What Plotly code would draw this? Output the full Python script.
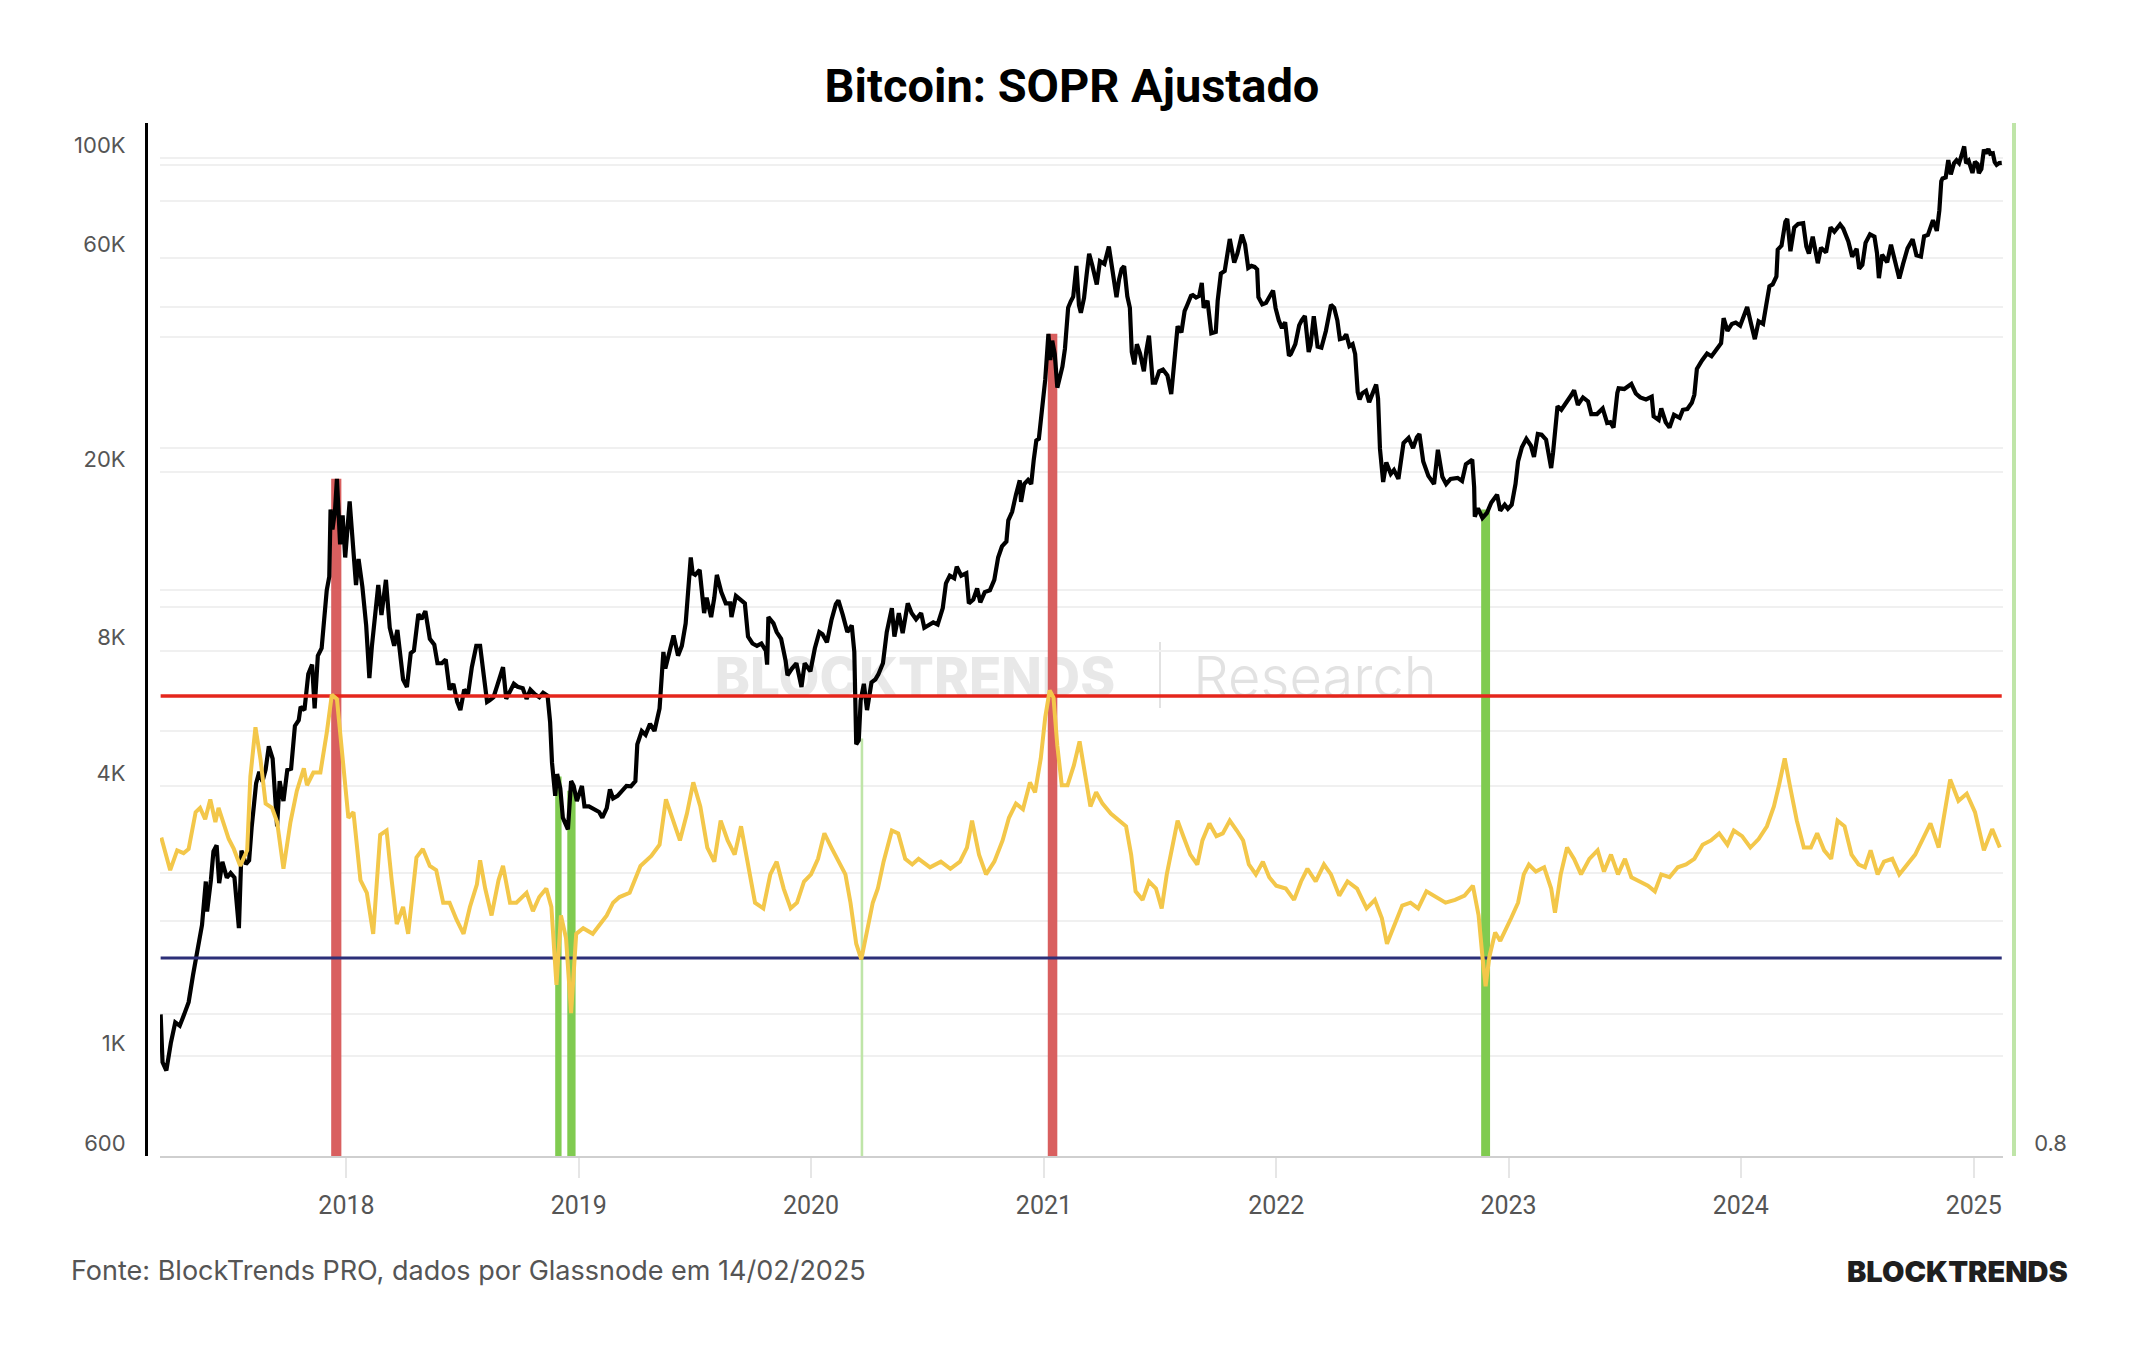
import plotly.graph_objects as go
import pandas as pd
import math

# ---------------- canvas / layout geometry ----------------
W, H = 2144, 1350
L, R, T, B = 146, 130, 123, 194
PW = W - L - R
PH = H - T - B


def px_x(px):
    return (px - L) / PW


def px_y(py):
    return (H - B - py) / PH


# ---------------- data ----------------
price_dates = [
    "2017-03-15", "2017-03-18", "2017-03-24", "2017-03-31", "2017-04-07", "2017-04-14", "2017-04-21", "2017-04-28",
    "2017-05-05", "2017-05-12", "2017-05-19", "2017-05-25", "2017-05-27", "2017-06-02", "2017-06-06", "2017-06-11",
    "2017-06-15", "2017-06-20", "2017-06-27", "2017-07-03", "2017-07-09", "2017-07-16", "2017-07-20", "2017-07-27",
    "2017-08-01", "2017-08-05", "2017-08-12", "2017-08-17", "2017-08-22", "2017-08-27", "2017-09-01", "2017-09-07",
    "2017-09-14", "2017-09-18", "2017-09-24", "2017-09-30", "2017-10-06", "2017-10-12", "2017-10-18", "2017-10-21",
    "2017-10-27", "2017-11-02", "2017-11-08", "2017-11-12", "2017-11-17", "2017-11-23", "2017-11-28", "2017-12-01",
    "2017-12-05", "2017-12-07", "2017-12-10", "2017-12-14", "2017-12-17", "2017-12-22", "2017-12-26", "2017-12-30",
    "2018-01-06", "2018-01-10", "2018-01-16", "2018-01-20", "2018-01-26", "2018-02-01", "2018-02-06", "2018-02-10",
    "2018-02-14", "2018-02-20", "2018-02-25", "2018-03-04", "2018-03-10", "2018-03-17", "2018-03-22", "2018-03-31",
    "2018-04-06", "2018-04-12", "2018-04-17", "2018-04-24", "2018-04-29", "2018-05-05", "2018-05-12", "2018-05-19",
    "2018-05-24", "2018-05-31", "2018-06-06", "2018-06-12", "2018-06-18", "2018-06-24", "2018-06-29", "2018-07-05",
    "2018-07-11", "2018-07-17", "2018-07-24", "2018-07-30", "2018-08-05", "2018-08-10", "2018-08-14", "2018-08-20",
    "2018-08-26", "2018-09-04", "2018-09-09", "2018-09-15", "2018-09-21", "2018-09-27", "2018-10-05", "2018-10-11",
    "2018-10-17", "2018-10-24", "2018-10-31", "2018-11-06", "2018-11-13", "2018-11-17", "2018-11-20", "2018-11-25",
    "2018-11-28", "2018-12-03", "2018-12-07", "2018-12-15", "2018-12-20", "2018-12-24", "2018-12-29",
    "2019-01-06", "2019-01-10", "2019-01-17", "2019-01-26", "2019-02-02", "2019-02-07", "2019-02-14", "2019-02-19",
    "2019-02-24", "2019-03-03", "2019-03-10", "2019-03-17", "2019-03-24", "2019-03-31", "2019-04-03", "2019-04-10",
    "2019-04-16", "2019-04-23", "2019-04-30", "2019-05-08", "2019-05-14", "2019-05-17", "2019-05-24", "2019-05-30",
    "2019-06-06", "2019-06-12", "2019-06-18", "2019-06-22", "2019-06-26", "2019-06-29", "2019-07-03", "2019-07-10",
    "2019-07-17", "2019-07-21", "2019-07-28", "2019-08-02", "2019-08-06", "2019-08-13", "2019-08-20", "2019-08-27",
    "2019-08-29", "2019-09-05", "2019-09-12", "2019-09-19", "2019-09-24", "2019-10-01", "2019-10-08", "2019-10-15",
    "2019-10-22", "2019-10-24", "2019-10-26", "2019-11-03", "2019-11-08", "2019-11-15", "2019-11-22", "2019-11-25",
    "2019-12-02", "2019-12-09", "2019-12-17", "2019-12-22", "2019-12-31",
    "2020-01-07", "2020-01-14", "2020-01-19", "2020-01-26", "2020-02-02", "2020-02-09", "2020-02-13", "2020-02-20",
    "2020-02-27", "2020-03-05", "2020-03-09", "2020-03-12", "2020-03-16", "2020-03-19", "2020-03-24", "2020-03-29",
    "2020-04-05", "2020-04-11", "2020-04-16", "2020-04-23", "2020-04-29", "2020-05-07", "2020-05-11", "2020-05-18",
    "2020-05-24", "2020-06-01", "2020-06-07", "2020-06-14", "2020-06-22", "2020-06-27", "2020-07-04", "2020-07-11",
    "2020-07-18", "2020-07-26", "2020-07-31", "2020-08-06", "2020-08-13", "2020-08-17", "2020-08-24", "2020-09-01",
    "2020-09-05", "2020-09-12", "2020-09-18", "2020-09-23", "2020-09-30", "2020-10-08", "2020-10-15", "2020-10-21",
    "2020-10-27", "2020-11-03", "2020-11-06", "2020-11-12", "2020-11-18", "2020-11-24", "2020-11-26", "2020-12-01",
    "2020-12-07", "2020-12-12", "2020-12-16", "2020-12-20", "2020-12-24", "2020-12-27", "2020-12-31",
    "2021-01-03", "2021-01-08", "2021-01-11", "2021-01-14", "2021-01-18", "2021-01-22", "2021-01-26", "2021-01-30",
    "2021-02-03", "2021-02-08", "2021-02-12", "2021-02-16", "2021-02-21", "2021-02-25", "2021-02-28", "2021-03-05",
    "2021-03-09", "2021-03-13", "2021-03-18", "2021-03-25", "2021-03-30", "2021-04-06", "2021-04-13", "2021-04-18",
    "2021-04-25", "2021-04-29", "2021-05-03", "2021-05-07", "2021-05-12", "2021-05-16", "2021-05-19", "2021-05-23",
    "2021-05-27", "2021-06-01", "2021-06-07", "2021-06-11", "2021-06-15", "2021-06-21", "2021-06-25", "2021-07-01",
    "2021-07-07", "2021-07-14", "2021-07-20", "2021-07-25", "2021-07-30", "2021-08-05", "2021-08-10", "2021-08-14",
    "2021-08-20", "2021-08-23", "2021-08-28", "2021-09-02", "2021-09-06", "2021-09-09", "2021-09-15", "2021-09-21",
    "2021-09-28", "2021-10-01", "2021-10-06", "2021-10-12", "2021-10-16", "2021-10-20", "2021-10-27", "2021-11-01",
    "2021-11-08", "2021-11-13", "2021-11-18", "2021-11-23", "2021-11-28", "2021-12-02", "2021-12-04", "2021-12-10",
    "2021-12-16", "2021-12-21", "2021-12-27", "2021-12-31",
    "2022-01-05", "2022-01-10", "2022-01-15", "2022-01-21", "2022-01-24", "2022-01-31", "2022-02-06", "2022-02-10",
    "2022-02-15", "2022-02-21", "2022-02-24", "2022-03-01", "2022-03-07", "2022-03-13", "2022-03-20", "2022-03-28",
    "2022-04-02", "2022-04-07", "2022-04-11", "2022-04-17", "2022-04-21", "2022-04-26", "2022-05-01", "2022-05-05",
    "2022-05-09", "2022-05-12", "2022-05-16", "2022-05-22", "2022-05-27", "2022-06-01", "2022-06-07", "2022-06-10",
    "2022-06-13", "2022-06-18", "2022-06-23", "2022-06-30", "2022-07-05", "2022-07-12", "2022-07-20", "2022-07-28",
    "2022-08-04", "2022-08-10", "2022-08-14", "2022-08-20", "2022-08-28", "2022-09-06", "2022-09-12", "2022-09-19",
    "2022-09-25", "2022-10-02", "2022-10-08", "2022-10-13", "2022-10-20", "2022-10-26", "2022-11-05", "2022-11-08",
    "2022-11-09", "2022-11-14", "2022-11-21", "2022-11-28", "2022-12-05", "2022-12-14", "2022-12-19", "2022-12-26",
    "2022-12-31",
    "2023-01-06", "2023-01-12", "2023-01-16", "2023-01-22", "2023-01-29", "2023-02-05", "2023-02-10", "2023-02-16",
    "2023-02-22", "2023-03-01", "2023-03-09", "2023-03-12", "2023-03-16", "2023-03-19", "2023-03-25", "2023-04-02",
    "2023-04-10", "2023-04-14", "2023-04-20", "2023-04-28", "2023-05-06", "2023-05-11", "2023-05-20", "2023-05-29",
    "2023-06-05", "2023-06-10", "2023-06-15", "2023-06-21", "2023-06-23", "2023-07-02", "2023-07-13", "2023-07-20",
    "2023-07-27", "2023-08-05", "2023-08-14", "2023-08-17", "2023-08-25", "2023-08-29", "2023-09-05", "2023-09-11",
    "2023-09-18", "2023-09-27", "2023-10-02", "2023-10-09", "2023-10-16", "2023-10-20", "2023-10-24", "2023-11-01",
    "2023-11-09", "2023-11-16", "2023-11-24", "2023-12-01", "2023-12-05", "2023-12-11", "2023-12-18", "2023-12-24",
    "2023-12-31",
    "2024-01-05", "2024-01-11", "2024-01-17", "2024-01-23", "2024-01-29", "2024-02-05", "2024-02-10", "2024-02-15",
    "2024-02-20", "2024-02-26", "2024-02-28", "2024-03-05", "2024-03-11", "2024-03-14", "2024-03-19", "2024-03-25",
    "2024-03-31", "2024-04-08", "2024-04-13", "2024-04-17", "2024-04-23", "2024-05-01", "2024-05-06", "2024-05-14",
    "2024-05-21", "2024-05-27", "2024-06-05", "2024-06-10", "2024-06-18", "2024-06-24", "2024-07-01", "2024-07-05",
    "2024-07-10", "2024-07-15", "2024-07-22", "2024-07-29", "2024-08-02", "2024-08-05", "2024-08-10", "2024-08-18",
    "2024-08-24", "2024-08-30", "2024-09-06", "2024-09-12", "2024-09-19", "2024-09-27", "2024-10-03", "2024-10-10",
    "2024-10-15", "2024-10-21", "2024-10-29", "2024-11-04", "2024-11-08", "2024-11-11", "2024-11-13", "2024-11-18",
    "2024-11-22", "2024-11-26", "2024-12-01", "2024-12-05", "2024-12-09", "2024-12-13", "2024-12-17", "2024-12-20",
    "2024-12-24", "2024-12-30",
    "2025-01-03", "2025-01-07", "2025-01-09", "2025-01-13", "2025-01-17", "2025-01-20", "2025-01-24", "2025-01-27",
    "2025-01-31", "2025-02-03", "2025-02-06", "2025-02-10", "2025-02-14",
]

price_values = [
    1240, 970, 930, 1070, 1190, 1170, 1240, 1320,
    1520, 1720, 1960, 2450, 2100, 2470, 2860, 2950,
    2430, 2710, 2500, 2560, 2500, 1930, 2870, 2680,
    2730, 3230, 4050, 4300, 4090, 4350, 4900, 4600,
    3250, 4100, 3700, 4340, 4370, 5440, 5600, 6000,
    5900, 7100, 7450, 5950, 7790, 8100, 9900, 10900,
    11700, 16500, 14900, 16400, 19300, 13800, 16000, 12900,
    17200, 14800, 11200, 12800, 11100, 9100, 6950, 8200,
    9500, 11200, 9600, 11500, 9000, 8200, 8900, 6900,
    6640, 7900, 8000, 9650, 9400, 9800, 8500, 8250,
    7500, 7500, 7650, 6550, 6750, 6150, 5900, 6550,
    6400, 7350, 8200, 8200, 7000, 6150, 6200, 6300,
    6700, 7350, 6250, 6500, 6750, 6650, 6600, 6250,
    6550, 6400, 6300, 6450, 6350, 5550, 4500, 3800,
    4250, 3950, 3400, 3200, 4100, 4000, 3700,
    4000, 3600, 3600, 3550, 3500, 3400, 3570, 3930,
    3750, 3800, 3900, 4000, 3990, 4100, 4950, 5300,
    5200, 5500, 5300, 5950, 7950, 7300, 8000, 8650,
    7800, 8200, 9200, 10700, 12900, 11900, 11800, 12100,
    9700, 10500, 9500, 10500, 11800, 10800, 10200, 10200,
    9500, 10600, 10400, 10200, 8600, 8300, 8200, 8300,
    8000, 7450, 9500, 9200, 8800, 8500, 7600, 7050,
    7300, 7500, 6640, 7500, 7200,
    8100, 8800, 8700, 8350, 9350, 10150, 10350, 9600,
    8800, 9100, 7950, 4950, 5050, 6200, 6750, 5900,
    6800, 6900, 7100, 7500, 8800, 9950, 8600, 9700,
    8750, 10200, 9700, 9400, 9700, 9000, 9100, 9250,
    9150, 9950, 11300, 11750, 11600, 12300, 11750, 11900,
    10200, 10400, 11000, 10250, 10800, 10900, 11500, 12900,
    13650, 14000, 15600, 16300, 17800, 19150, 17150, 18800,
    19200, 18800, 21300, 23500, 23700, 26300, 29000,
    32100, 40600, 35500, 39200, 36600, 30800, 32400, 34300,
    37600, 46400, 47900, 49100, 57500, 47000, 45200, 48800,
    54900, 61200, 57600, 52300, 58900, 58100, 63500, 56100,
    49000, 53600, 56600, 57400, 49200, 46400, 37000, 34700,
    38500, 36700, 33500, 37300, 40200, 31600, 31600, 33500,
    33800, 32800, 29800, 35400, 42200, 40900, 45600, 47000,
    49300, 49500, 48900, 49300, 52700, 46400, 48100, 40700,
    41000, 48100, 55300, 56000, 61500, 66000, 58500, 61300,
    67500, 64200, 56900, 57500, 57200, 56500, 49000, 47200,
    47600, 49000, 50700, 46300,
    43500, 41800, 43100, 36300, 36600, 38500, 42400, 43500,
    44500, 37000, 38300, 44400, 38000, 37800, 41200, 47100,
    46400, 43500, 39500, 39700, 40500, 38100, 38500, 36600,
    30100, 29000, 29900, 30300, 28600, 29800, 31300, 29100,
    22500, 19000, 21000, 19800, 20200, 19300, 23200, 23800,
    22600, 23900, 24300, 21100, 19600, 18800, 22400, 19500,
    18800, 19300, 19400, 19400, 19100, 20800, 21300, 18500,
    15900, 16600, 15800, 16200, 17100, 17800, 16400, 16900,
    16550,
    16900, 18800, 21100, 22700, 23700, 22900, 21600, 24300,
    24200, 23600, 20400, 22100, 25000, 28000, 27500, 28500,
    29700, 30400, 28200, 29300, 28700, 26900, 26900, 27700,
    25700, 25800, 25100, 30000, 30700, 30600, 31400, 29900,
    29300, 29000, 29400, 26600, 26100, 27700, 25800, 25100,
    26800, 26400, 27500, 27600, 28500, 29700, 33900, 35400,
    36700, 36200, 37700, 38700, 44000, 41200, 42700, 43000,
    42300,
    44100, 46600, 42800, 39500, 43300, 42700, 47100, 51800,
    52300, 54500, 62500, 63800, 72100, 73100, 62000, 70000,
    71300, 71600, 63500, 61300, 66800, 58300, 63100, 61600,
    70100, 68500, 71100, 69600, 65200, 60300, 62800, 56700,
    57800, 64700, 67600, 66800, 61400, 54000, 60900, 58600,
    64100, 59100, 53900, 58100, 62900, 65900, 60700, 60300,
    66900, 67400, 72700, 68800, 76500, 88700, 90000, 90500,
    98900, 91900, 97300, 98800, 97400, 101400, 106100, 97300,
    98600, 92600,
    98100, 96900, 92500, 94500, 104400, 102300, 104700, 102100,
    102400, 97900, 96500, 97400, 97500,
]

sopr_dates = [
    "2017-03-16", "2017-03-23", "2017-03-30", "2017-04-10", "2017-04-20", "2017-04-28", "2017-05-09", "2017-05-16",
    "2017-05-24", "2017-06-01", "2017-06-09", "2017-06-14", "2017-06-22", "2017-06-30", "2017-07-08", "2017-07-18",
    "2017-07-29", "2017-08-03", "2017-08-11", "2017-08-19", "2017-08-27", "2017-09-06", "2017-09-14", "2017-09-24",
    "2017-10-05", "2017-10-15", "2017-10-26", "2017-10-31", "2017-11-10", "2017-11-21", "2017-12-01", "2017-12-09",
    "2017-12-17", "2017-12-22", "2017-12-30",
    "2018-01-04", "2018-01-12", "2018-01-23", "2018-02-02", "2018-02-12", "2018-02-23", "2018-03-05", "2018-03-13",
    "2018-03-21", "2018-03-31", "2018-04-08", "2018-04-21", "2018-05-01", "2018-05-12", "2018-05-22", "2018-06-02",
    "2018-06-12", "2018-06-23", "2018-07-04", "2018-07-14", "2018-07-25", "2018-07-30", "2018-08-07", "2018-08-17",
    "2018-08-28", "2018-09-04", "2018-09-15", "2018-09-25", "2018-10-11", "2018-10-21", "2018-10-31", "2018-11-11",
    "2018-11-19", "2018-11-27", "2018-12-04", "2018-12-12", "2018-12-20", "2018-12-28",
    "2019-01-08", "2019-01-23", "2019-02-03", "2019-02-14", "2019-02-24", "2019-03-06", "2019-03-22", "2019-04-08",
    "2019-04-25", "2019-05-08", "2019-05-18", "2019-05-29", "2019-06-09", "2019-06-20", "2019-06-30", "2019-07-11",
    "2019-07-22", "2019-08-02", "2019-08-12", "2019-08-23", "2019-09-03", "2019-09-13", "2019-09-24", "2019-10-05",
    "2019-10-18", "2019-10-29", "2019-11-08", "2019-11-19", "2019-11-30", "2019-12-10", "2019-12-21",
    "2020-01-01", "2020-01-12", "2020-01-22", "2020-02-02", "2020-02-13", "2020-02-24", "2020-03-03", "2020-03-12",
    "2020-03-20", "2020-03-29", "2020-04-07", "2020-04-15", "2020-04-24", "2020-05-07", "2020-05-17", "2020-05-28",
    "2020-06-08", "2020-06-18", "2020-07-06", "2020-07-23", "2020-08-07", "2020-08-22", "2020-09-02", "2020-09-10",
    "2020-09-21", "2020-10-02", "2020-10-15", "2020-10-28", "2020-11-07", "2020-11-18", "2020-11-29", "2020-12-10",
    "2020-12-18", "2020-12-27",
    "2021-01-03", "2021-01-10", "2021-01-16", "2021-01-22", "2021-01-29", "2021-02-07", "2021-02-17", "2021-02-26",
    "2021-03-06", "2021-03-15", "2021-03-24", "2021-04-03", "2021-04-16", "2021-04-29", "2021-05-10", "2021-05-18",
    "2021-05-25", "2021-06-05", "2021-06-15", "2021-06-26", "2021-07-05", "2021-07-13", "2021-07-22", "2021-07-30",
    "2021-08-08", "2021-08-19", "2021-08-30", "2021-09-07", "2021-09-18", "2021-09-29", "2021-10-09", "2021-10-20",
    "2021-10-31", "2021-11-10", "2021-11-19", "2021-11-30", "2021-12-11", "2021-12-21",
    "2022-01-01", "2022-01-16", "2022-01-29", "2022-02-09", "2022-02-19", "2022-03-04", "2022-03-17", "2022-03-28",
    "2022-04-10", "2022-04-23", "2022-05-08", "2022-05-23", "2022-06-05", "2022-06-16", "2022-06-24", "2022-07-05",
    "2022-07-18", "2022-07-31", "2022-08-12", "2022-08-25", "2022-09-09", "2022-09-24", "2022-10-09", "2022-10-24",
    "2022-11-06", "2022-11-15", "2022-11-21", "2022-11-26", "2022-12-02", "2022-12-11", "2022-12-19", "2022-12-28",
    "2023-01-05", "2023-01-16", "2023-01-25", "2023-02-02", "2023-02-13", "2023-02-26", "2023-03-09", "2023-03-15",
    "2023-03-24", "2023-04-03", "2023-04-14", "2023-04-25", "2023-05-08", "2023-05-21", "2023-05-31", "2023-06-11",
    "2023-06-22", "2023-07-03", "2023-07-13", "2023-07-26", "2023-08-08", "2023-08-19", "2023-08-29", "2023-09-11",
    "2023-09-24", "2023-10-07", "2023-10-20", "2023-11-02", "2023-11-15", "2023-11-28", "2023-12-11", "2023-12-21",
    "2024-01-03", "2024-01-16", "2024-01-29", "2024-02-11", "2024-02-22", "2024-03-01", "2024-03-10", "2024-03-18",
    "2024-03-29", "2024-04-09", "2024-04-20", "2024-04-30", "2024-05-11", "2024-05-22", "2024-06-01", "2024-06-12",
    "2024-06-23", "2024-07-04", "2024-07-14", "2024-07-23", "2024-08-03", "2024-08-13", "2024-08-26", "2024-09-06",
    "2024-09-18", "2024-10-01", "2024-10-25", "2024-11-07", "2024-11-25", "2024-12-08", "2024-12-21",
    "2025-01-03", "2025-01-17", "2025-01-30", "2025-02-11",
]

sopr_values = [
    1.025, 1.012, 1.002, 1.016, 1.014, 1.017, 1.043, 1.046,
    1.038, 1.052, 1.036, 1.046, 1.036, 1.024, 1.017, 1.005,
    1.016, 1.068, 1.103, 1.080, 1.049, 1.046, 1.036, 1.003,
    1.036, 1.058, 1.074, 1.062, 1.071, 1.071, 1.099, 1.126,
    1.123, 1.099, 1.058,
    1.039, 1.043, 0.995, 0.986, 0.957, 1.027, 1.030, 0.995,
    0.964, 0.976, 0.957, 1.011, 1.017, 1.005, 1.002, 0.979,
    0.979, 0.967, 0.957, 0.976, 0.992, 1.009, 0.989, 0.970,
    0.995, 1.005, 0.979, 0.979, 0.986, 0.973, 0.983, 0.989,
    0.976, 0.921, 0.970, 0.954, 0.901, 0.957,
    0.961, 0.957, 0.964, 0.970, 0.979, 0.983, 0.986, 1.005,
    1.012, 1.020, 1.052, 1.037, 1.023, 1.042, 1.064, 1.047,
    1.018, 1.008, 1.037, 1.023, 1.013, 1.033, 1.004, 0.979,
    0.975, 0.999, 1.008, 0.989, 0.975, 0.979, 0.994,
    0.999, 1.010, 1.028, 1.018, 1.008, 0.999, 0.979, 0.950,
    0.939, 0.960, 0.979, 0.989, 1.008, 1.030, 1.028, 1.010,
    1.006, 1.010, 1.004, 1.008, 1.003, 1.008, 1.018, 1.037,
    1.013, 0.999, 1.008, 1.023, 1.039, 1.049, 1.045, 1.064,
    1.057, 1.081,
    1.110, 1.129, 1.124, 1.090, 1.062, 1.062, 1.076, 1.093,
    1.071, 1.047, 1.057, 1.049, 1.042, 1.037, 1.033, 1.013,
    0.987, 0.981, 0.994, 0.989, 0.975, 0.999, 1.018, 1.037,
    1.026, 1.013, 1.006, 1.023, 1.035, 1.026, 1.028, 1.037,
    1.030, 1.023, 1.006, 0.999, 1.008, 0.997,
    0.991, 0.989, 0.981, 0.994, 1.003, 0.994, 1.006, 0.999,
    0.984, 0.994, 0.989, 0.975, 0.981, 0.968, 0.950, 0.962,
    0.977, 0.979, 0.975, 0.987, 0.983, 0.979, 0.981, 0.984,
    0.991, 0.970, 0.941, 0.920, 0.941, 0.958, 0.952, 0.960,
    0.968, 0.979, 0.999, 1.006, 1.001, 1.004, 0.989, 0.972,
    0.999, 1.018, 1.010, 0.999, 1.010, 1.016, 1.001, 1.013,
    0.999, 1.010, 0.997, 0.994, 0.991, 0.987, 0.999, 0.997,
    1.004, 1.006, 1.010, 1.020, 1.023, 1.028, 1.020, 1.030,
    1.026, 1.018, 1.024, 1.033, 1.047, 1.062, 1.081, 1.062,
    1.037, 1.018, 1.018, 1.028, 1.016, 1.010, 1.037, 1.033,
    1.013, 1.006, 1.004, 1.016, 0.999, 1.008, 1.010, 0.999,
    1.006, 1.013, 1.035, 1.018, 1.066, 1.051, 1.056,
    1.043, 1.016, 1.031, 1.018,
]

# signal periods (aSOPR extremes)
signal_start = ["2017-12-08", "2018-11-25", "2018-12-14", "2020-03-19", "2021-01-07", "2022-11-19"]
signal_end = ["2017-12-24", "2018-12-05", "2018-12-27", "2020-03-23", "2021-01-22", "2022-12-03"]
signal_price = [19300, 4200, 3900, 5100, 40600, 16500]
signal_kind = ["venda", "compra", "compra", "compra_fraca", "venda", "compra"]

RED_LEVEL = 1.125
BLUE_LEVEL = 0.94

price_ticks = [600, 1000, 2000, 4000, 8000, 10000, 20000, 40000, 60000, 80000, 100000]
price_tick_text = ["600", "1K", "", "4K", "8K", "", "20K", "", "60K", "", "100K"]
sopr_ticks = [0.8, 0.9, 1.0, 1.1, 1.2, 1.3, 1.4, 1.5]
sopr_tick_text = ["0.8", "", "", "", "", "", "", ""]

X_RANGE = ["2017-03-14", "2025-02-16"]
Y_RANGE = [math.log10(600), 5.0778]
Y2_RANGE = [0.8, 1.530]

TITLE = "Bitcoin: SOPR Ajustado"
SOURCE = "Fonte: BlockTrends PRO, dados por Glassnode em 14/02/2025"
BRAND = "BLOCKTRENDS"

# ---------------- styles ----------------
BAR_COLORS = {"venda": "#d95f5f", "compra": "#80cb50", "compra_fraca": "#bfe5a8"}
PRICE_COLOR = "#000000"
SOPR_COLOR = "#f3c74a"
RED_COLOR = "#e5261c"
BLUE_COLOR = "#2c2f78"
GRID = "#f0f0f0"

fig = go.Figure()

# signal bars
s_start = pd.to_datetime(pd.Series(signal_start))
s_end = pd.to_datetime(pd.Series(signal_end))
s_mid = s_start + (s_end - s_start) / 2
s_width = (s_end - s_start).dt.total_seconds() * 1000
for kind, color in BAR_COLORS.items():
    idx = [i for i, k in enumerate(signal_kind) if k == kind]
    fig.add_trace(go.Bar(
        x=[s_mid[i] for i in idx],
        y=[signal_price[i] for i in idx],
        width=[s_width[i] for i in idx],
        marker=dict(color=color, line=dict(width=0)),
        yaxis="y", showlegend=False, hoverinfo="skip",
    ))

# threshold lines
x_span = [price_dates[0], price_dates[-1]]
fig.add_trace(go.Scatter(x=x_span, y=[RED_LEVEL, RED_LEVEL], yaxis="y2", mode="lines",
                         line=dict(color=RED_COLOR, width=3.5), showlegend=False))
fig.add_trace(go.Scatter(x=x_span, y=[BLUE_LEVEL, BLUE_LEVEL], yaxis="y2", mode="lines",
                         line=dict(color=BLUE_COLOR, width=3), showlegend=False))

# aSOPR
fig.add_trace(go.Scatter(x=sopr_dates, y=sopr_values, yaxis="y2", mode="lines",
                         line=dict(color=SOPR_COLOR, width=4), showlegend=False))

# price
fig.add_trace(go.Scatter(x=price_dates, y=price_values, yaxis="y", mode="lines",
                         line=dict(color=PRICE_COLOR, width=4.2), showlegend=False))

# watermark (between grid and traces)
fig.add_shape(type="rect", xref="paper", yref="paper",
              x0=px_x(690), x1=px_x(1140), y0=px_y(710), y1=px_y(640),
              line=dict(width=0), fillcolor="rgba(0,0,0,0)", layer="between",
              label=dict(text=BRAND, textposition="middle center",
                         font=dict(family="Inter", size=53, color="#e8e8e8", weight=800)))
fig.add_shape(type="rect", xref="paper", yref="paper",
              x0=px_x(1180), x1=px_x(1450), y0=px_y(710), y1=px_y(640),
              line=dict(width=0), fillcolor="rgba(0,0,0,0)", layer="between",
              label=dict(text="Research", textposition="middle center",
                         font=dict(family="Inter", size=56, color="#e2e2e2", weight=300)))
fig.add_shape(type="line", xref="paper", yref="paper",
              x0=px_x(1160), x1=px_x(1160), y0=px_y(642), y1=px_y(708),
              line=dict(color="#e2e2e2", width=2), layer="between")

fig.update_layout(
    width=W, height=H,
    margin=dict(l=L, r=R, t=T, b=B, autoexpand=False),
    paper_bgcolor="white", plot_bgcolor="white",
    barmode="overlay",
    title=dict(text=TITLE, x=0.5, xref="container", xanchor="center",
               y=1 - 86 / H, yref="container", yanchor="middle",
               font=dict(family="Roboto", size=47, color="#000", weight="bold")),
    xaxis=dict(
        type="date", range=X_RANGE, domain=[px_x(160), px_x(2003)],
        showgrid=False, zeroline=False,
        showline=True, linecolor="#cfcfcf", linewidth=2,
        ticks="outside", ticklen=20, tickwidth=1.5, tickcolor="#e6e6e6",
        tick0="2018-01-01", dtick="M12", tickformat="%Y",
        ticklabelstandoff=6,
        tickfont=dict(family="Liberation Sans Narrow, Roboto", size=25, color="#555"),
    ),
    yaxis=dict(
        type="log", range=Y_RANGE, anchor="free", position=0, side="left",
        showline=True, linecolor="#000", linewidth=3,
        showgrid=True, gridcolor=GRID, gridwidth=1.5, zeroline=False,
        tickvals=price_ticks, ticktext=price_tick_text, ticks="",
        ticklabelshift=-13, ticklabelstandoff=15,
        tickfont=dict(family="Inter", size=22, color="#555"),
    ),
    yaxis2=dict(
        overlaying="y", side="right", anchor="free", position=1, range=Y2_RANGE,
        showline=True, linecolor="#bfe5a8", linewidth=3.5,
        showgrid=True, gridcolor=GRID, gridwidth=1.5, zeroline=False,
        tickvals=sopr_ticks, ticktext=sopr_tick_text, ticks="",
        ticklabelshift=-13, ticklabelstandoff=14,
        tickfont=dict(family="Inter", size=22, color="#555"),
    ),
    annotations=[
        dict(text=SOURCE, xref="paper", yref="paper", x=px_x(69), y=px_y(1270),
             xanchor="left", yanchor="middle", showarrow=False,
             font=dict(family="Inter", size=27, color="#555")),
        dict(text=BRAND, xref="paper", yref="paper", x=px_x(2070), y=px_y(1271),
             xanchor="right", yanchor="middle", showarrow=False,
             font=dict(family="Inter", size=29, color="#1f1f1f", weight=900)),
    ],
)

fig.write_html("out.html")
